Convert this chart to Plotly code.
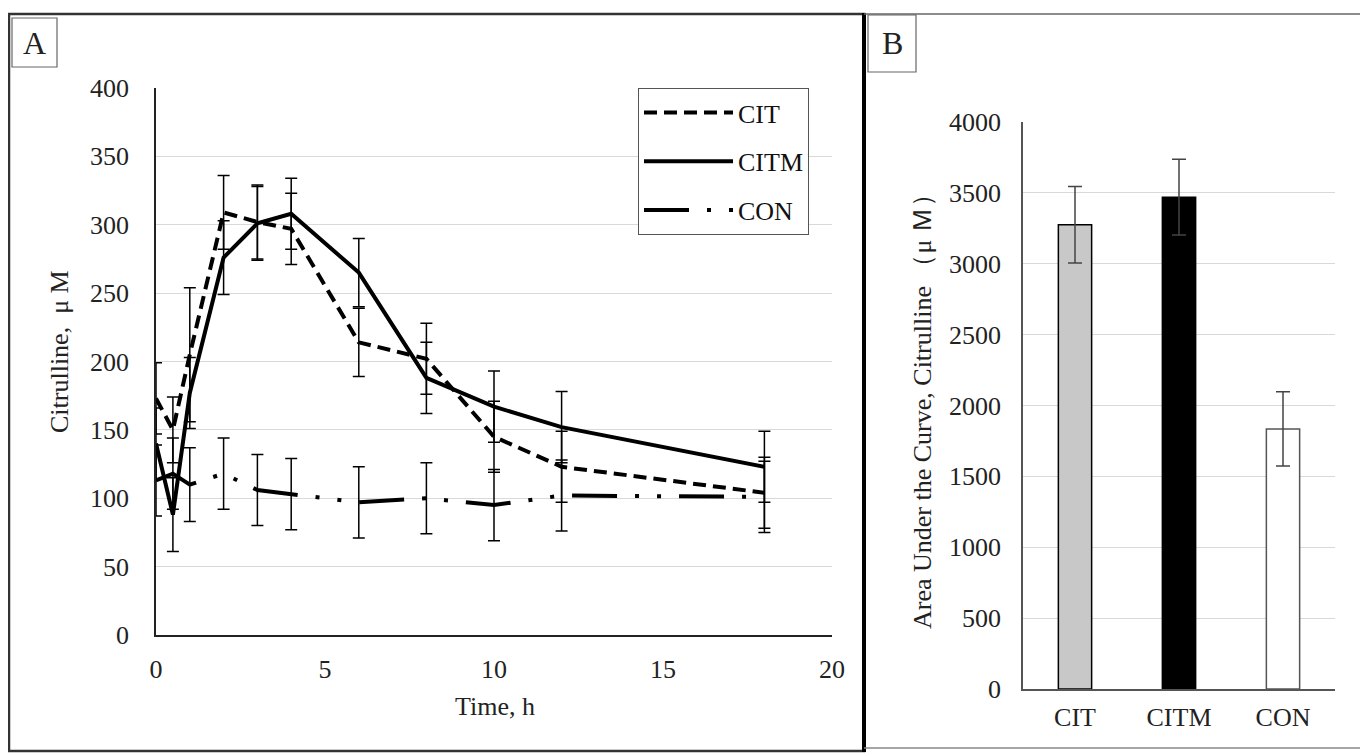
import plotly.graph_objects as go

# ---------------- data ----------------
time_h = [0, 0.5, 1, 2, 3, 4, 6, 8, 10, 12, 18]
cit = [173, 150, 205, 309, 302, 297, 214, 202, 145, 123, 104]
cit_err = [26, 24, 49, 27, 27, 26, 25, 26, 26, 26, 26]
citm = [140, 88, 177, 276, 301, 308, 265, 188, 167, 152, 123]
citm_err = [26, 27, 26, 27, 27, 26, 25, 26, 26, 26, 26]
con = [113, 118, 110, 118, 106, 103, 97, 100, 95, 102, 101]
con_err = [26, 26, 27, 26, 26, 26, 26, 26, 26, 26, 26]

groups = ["CIT", "CITM", "CON"]
auc = [3275, 3470, 1835]
auc_err = [270, 268, 262]

x_ticks_a = [0, 5, 10, 15, 20]
y_ticks_a = [0, 50, 100, 150, 200, 250, 300, 350, 400]
y_ticks_b = [0, 500, 1000, 1500, 2000, 2500, 3000, 3500, 4000]

# page has an 8px body margin: the figure sits at (8, 8) in the 1368x755 window
OFF = 8
W, H = 1368 - OFF, 755 - OFF
FONT = "Liberation Serif"
TXT = "#222222"


def px(x):
    return (x - OFF) / W


def py(y):
    return 1 - (y - OFF) / H


fig = go.Figure()

err_style = dict(type="data", color="black", thickness=1.5, width=6)

fig.add_trace(go.Scatter(
    x=time_h, y=cit, name="CIT", mode="lines",
    line=dict(color="black", width=4, dash="13px,7px"),
    error_y=dict(array=cit_err, **err_style),
    xaxis="x", yaxis="y", legendgroup="a", legendrank=1))
fig.add_trace(go.Scatter(
    x=time_h, y=citm, name="CITM", mode="lines",
    line=dict(color="black", width=4),
    error_y=dict(array=citm_err, **err_style),
    xaxis="x", yaxis="y", legendgroup="b", legendrank=2))
fig.add_trace(go.Scatter(
    x=time_h, y=con, name="CON", mode="lines",
    line=dict(color="black", width=4, dash="45px,18px,4px,18px,4px,18px"),
    error_y=dict(array=con_err, **err_style),
    xaxis="x", yaxis="y", legendgroup="c", legendrank=3))

fig.add_trace(go.Bar(
    x=groups, y=auc, width=0.32,
    marker=dict(color=["#c8c8c8", "black", "white"],
                line=dict(color=["black", "black", "#555555"], width=1.5)),
    error_y=dict(type="data", array=auc_err, color="#444444", thickness=1.5, width=7),
    xaxis="x2", yaxis="y2", showlegend=False))

tickfont = dict(family=FONT, size=26, color=TXT)

fig.update_layout(
    width=W, height=H,
    margin=dict(l=0, r=0, t=0, b=0),
    paper_bgcolor="white", plot_bgcolor="white",
    font=dict(family=FONT, size=26, color=TXT),
    xaxis=dict(domain=[px(156), px(832)], range=[0, 20], tickvals=x_ticks_a,
               showgrid=False, zeroline=False, showline=True, automargin=False,
               linecolor="#222222", linewidth=1.5, ticks="", tickfont=tickfont,
               ticklabelstandoff=10, anchor="y"),
    yaxis=dict(domain=[py(635), py(88)], range=[0, 400], tickvals=y_ticks_a,
               showgrid=True, gridcolor="#d9d9d9", gridwidth=1, zeroline=False,
               showline=True, linecolor="#222222", linewidth=1.5, ticks="",
               automargin=False, tickfont=tickfont, ticklabelstandoff=20, anchor="x"),
    xaxis2=dict(domain=[px(1023), px(1335)], range=[-0.5, 2.5],
                showgrid=False, zeroline=False, showline=True, automargin=False,
                linecolor="#555555", linewidth=1.5, ticks="", tickfont=tickfont,
                ticklabelstandoff=4, anchor="y2"),
    yaxis2=dict(domain=[py(689), py(122)], range=[0, 4000], tickvals=y_ticks_b,
                showgrid=True, gridcolor="#d9d9d9", gridwidth=1, zeroline=False,
                showline=True, linecolor="#555555", linewidth=1.5, ticks="",
                automargin=False, tickfont=tickfont, ticklabelstandoff=15, anchor="x2"),
    legend=dict(x=px(638), y=py(88), xanchor="left", yanchor="top",
                bordercolor="#555555", borderwidth=1, bgcolor="white",
                font=dict(family=FONT, size=26, color="#111111"),
                tracegroupgap=12, itemwidth=89),
    showlegend=True,
)

shapes = [
    # panel A frame
    dict(type="rect", xref="paper", yref="paper", x0=px(9), x1=px(864), y0=py(751), y1=py(14),
         line=dict(color="#333333", width=2.5)),
    dict(type="line", xref="paper", yref="paper", x0=px(864), x1=px(864), y0=py(752), y1=py(13),
         line=dict(color="black", width=4)),
    # panel B frame
    dict(type="line", xref="paper", yref="paper", x0=px(864), x1=px(1366), y0=py(14), y1=py(14),
         line=dict(color="#666666", width=1.5)),
    dict(type="line", xref="paper", yref="paper", x0=px(1366), x1=px(1366), y0=py(14), y1=py(748),
         line=dict(color="#888888", width=1.5)),
    dict(type="line", xref="paper", yref="paper", x0=px(864), x1=px(1366), y0=py(748), y1=py(748),
         line=dict(color="#888888", width=1.5)),
    # label boxes
    dict(type="rect", xref="paper", yref="paper", x0=px(12), x1=px(57), y0=py(67), y1=py(18),
         line=dict(color="#666666", width=1.2)),
    dict(type="rect", xref="paper", yref="paper", x0=px(868), x1=px(916), y0=py(72), y1=py(15),
         line=dict(color="#666666", width=1.2)),
]
fig.update_layout(shapes=shapes)


def ann(text, x, y, size, angle=0):
    return dict(text=text, x=px(x), y=py(y), xref="paper", yref="paper", showarrow=False,
                xanchor="center", yanchor="middle", textangle=angle,
                font=dict(family=FONT, size=size, color=TXT))


annotations = [
    ann("A", 34, 43, 32),
    ann("B", 892, 43, 32),
    ann("Citrulline,  μ M", 60, 352, 26, -90),
    ann("Time, h", 495, 706, 26),
    ann("Area Under the Curve, Citrulline （μ Ｍ）", 923, 405, 26, -90),
]
fig.update_layout(annotations=annotations)

fig.write_html("out.html")
